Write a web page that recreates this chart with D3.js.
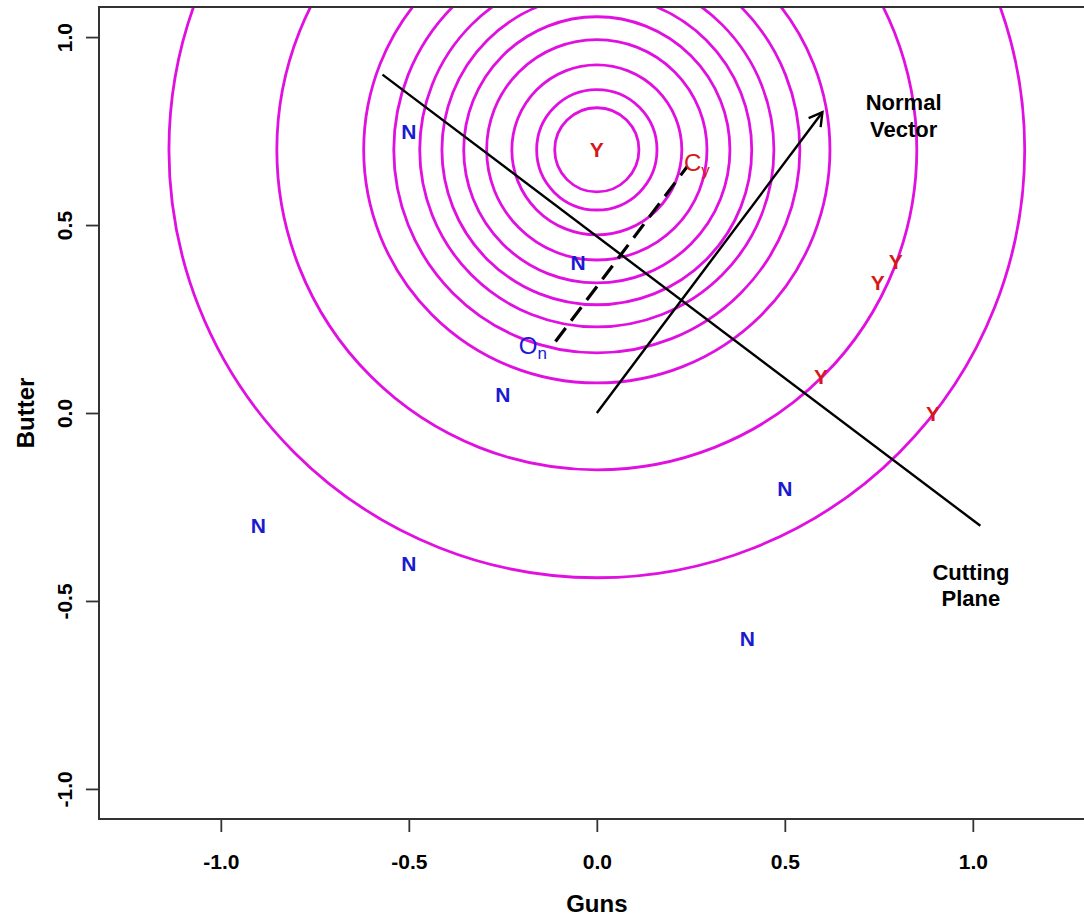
<!DOCTYPE html>
<html><head><meta charset="utf-8">
<script src="https://cdn.jsdelivr.net/npm/d3@7"></script>
<style>
body{margin:0;background:#fff;}
svg{display:block;font-family:"Liberation Sans",Arial,sans-serif;font-weight:bold;}
</style></head>
<body><svg id="c" width="1084" height="920"></svg>
<script>
// ---- data ----
const xTicks = [-1.0, -0.5, 0.0, 0.5, 1.0];
const yTicks = [-1.0, -0.5, 0.0, 0.5, 1.0];
const nX = [-0.50, -0.05, -0.25, -0.90, -0.50, 0.50, 0.40];
const nY = [0.75, 0.40, 0.05, -0.30, -0.40, -0.20, -0.60];
const yX = [0.00, 0.747, 0.795, 0.596, 0.894];
const yY = [0.70, 0.346, 0.402, 0.096, 0.000];
const contourCenter = [0.0, 0.70];
const contourRadii = [0.112, 0.160, 0.226, 0.293, 0.354, 0.412, 0.471, 0.540, 0.620, 0.851, 1.138];
const cuttingPlane = [[-0.57, 0.90], [1.02, -0.30]];
const normalVector = [[0, 0], [0.60, 0.80]];
const projLine = [[-0.11, 0.19], [0.24, 0.655]];
const notes = [
  {t: "Normal", x: 0.816, y: 0.827},
  {t: "Vector", x: 0.816, y: 0.755},
  {t: "Cutting", x: 0.995, y: -0.423},
  {t: "Plane", x: 0.995, y: -0.492}
];
const centroids = [
  {main: "O", sub: "n", x: -0.17, y: 0.18, color: "#1a1ad6"},
  {main: "C", sub: "y", x: 0.266, y: 0.668, color: "#d81818"}
];

// ---- chart ----
const svg = d3.select("#c");
const L = 99, T = 7, B = 819;
const x = d3.scaleLinear().domain([-1.324, 1.324]).range([L, L + 2.648 * 376]);
const y = d3.scaleLinear().domain([-1.08, 1.08]).range([B, T]);
const fmt = d => d.toFixed(1);

svg.append("defs").append("clipPath").attr("id", "clip")
  .append("rect").attr("x", L).attr("y", T).attr("width", x.range()[1] - L).attr("height", B - T);

const g = svg.append("g").attr("clip-path", "url(#clip)");

// contours
g.selectAll("circle.ct").data(contourRadii).enter().append("circle")
  .attr("class", "ct")
  .attr("cx", x(contourCenter[0])).attr("cy", y(contourCenter[1]))
  .attr("r", d => x(d) - x(0))
  .attr("fill", "none").attr("stroke", "#e010e0").attr("stroke-width", 2.8);

const line = d3.line().x(d => x(d[0])).y(d => y(d[1]));

// cutting plane
g.append("path").attr("d", line(cuttingPlane)).attr("stroke", "#000").attr("stroke-width", 2.4).attr("fill", "none");
// projection (dashed)
g.append("path").attr("d", line(projLine)).attr("stroke", "#000").attr("stroke-width", 3.2)
  .attr("stroke-dasharray", "17,9").attr("fill", "none");
// normal vector with open arrow head
g.append("path").attr("d", line(normalVector)).attr("stroke", "#000").attr("stroke-width", 2.4).attr("fill", "none");
{
  const x0 = x(normalVector[0][0]), y0 = y(normalVector[0][1]);
  const x1 = x(normalVector[1][0]), y1 = y(normalVector[1][1]);
  const ang = Math.atan2(y1 - y0, x1 - x0), len = 15, a = Math.PI / 6;
  const p = d3.path();
  p.moveTo(x1 - len * Math.cos(ang - a), y1 - len * Math.sin(ang - a));
  p.lineTo(x1, y1);
  p.lineTo(x1 - len * Math.cos(ang + a), y1 - len * Math.sin(ang + a));
  g.append("path").attr("d", p.toString()).attr("stroke", "#000").attr("stroke-width", 2.4).attr("fill", "none");
}

// point labels
g.selectAll("text.n").data(nX.map((v, i) => [v, nY[i]])).enter().append("text")
  .attr("x", d => x(d[0])).attr("y", d => y(d[1])).attr("dy", "0.36em")
  .attr("text-anchor", "middle").attr("font-size", 21).attr("fill", "#1a1ad0").text("N");
g.selectAll("text.y").data(yX.map((v, i) => [v, yY[i]])).enter().append("text")
  .attr("x", d => x(d[0])).attr("y", d => y(d[1])).attr("dy", "0.36em")
  .attr("text-anchor", "middle").attr("font-size", 21).attr("fill", "#d81818").text("Y");

// centroid labels
centroids.forEach(c => {
  const t = g.append("text").attr("x", x(c.x)).attr("y", y(c.y)).attr("dy", "0.36em")
    .attr("text-anchor", "middle").attr("fill", c.color).attr("font-size", 24).attr("font-weight", "normal");
  t.append("tspan").text(c.main);
  t.append("tspan").attr("font-size", 17).attr("dy", 5).text(c.sub);
});

// annotations
g.selectAll("text.note").data(notes).enter().append("text")
  .attr("x", d => x(d.x)).attr("y", d => y(d.y)).attr("dy", "0.36em")
  .attr("text-anchor", "middle").attr("font-size", 22).attr("fill", "#000").text(d => d.t);

// box
svg.append("rect").attr("x", L).attr("y", T).attr("width", x.range()[1] - L).attr("height", B - T)
  .attr("fill", "none").attr("stroke", "#333").attr("stroke-width", 2);

// axes
const ax = svg.append("g").attr("transform", `translate(0,${B})`)
  .call(d3.axisBottom(x).tickValues(xTicks).tickFormat(fmt).tickSize(13).tickPadding(22));
ax.select(".domain").remove();
ax.selectAll("line").attr("stroke", "#333").attr("stroke-width", 1.8);
ax.selectAll("text").attr("font-size", 21).attr("fill", "#000").attr("font-family", "Liberation Sans, Arial, sans-serif");

const ay = svg.append("g").attr("transform", `translate(${L},0)`)
  .call(d3.axisLeft(y).tickValues(yTicks).tickFormat(fmt).tickSize(13).tickPadding(8));
ay.select(".domain").remove();
ay.selectAll("line").attr("stroke", "#333").attr("stroke-width", 1.8);
ay.selectAll("text").attr("font-size", 21).attr("fill", "#000").attr("font-family", "Liberation Sans, Arial, sans-serif")
  .attr("text-anchor", "middle").attr("x", null).attr("dy", null)
  .attr("transform", "translate(-35,0) rotate(-90)")
  .attr("dominant-baseline", "central");

// axis titles
svg.append("text").attr("x", x(0)).attr("y", 903).attr("dy", "0.36em").attr("text-anchor", "middle")
  .attr("font-size", 24).text("Guns");
svg.append("text").attr("transform", `translate(25,${y(0)}) rotate(-90)`).attr("dy", "0.36em")
  .attr("text-anchor", "middle").attr("font-size", 24).text("Butter");
</script></body></html>
